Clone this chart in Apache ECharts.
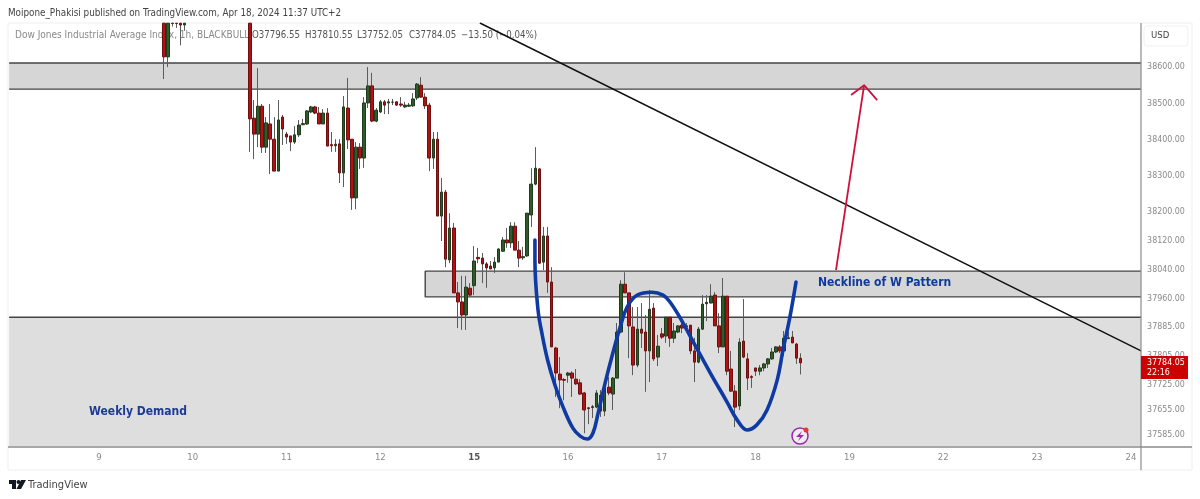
<!DOCTYPE html>
<html><head><meta charset="utf-8">
<style>html,body{margin:0;padding:0;background:#fff}#c{width:1200px;height:499px}</style>
<script src="https://cdn.jsdelivr.net/npm/echarts@6/dist/echarts.min.js"></script>
</head><body><div id="c"></div>
<script>
const slotCount = 278;
const dayLabels = ['9','10','11','12','15','16','17','18','19','22','23','24'];
const daySlots = [22,45,68,91,114,137,160,183,206,229,252,275];
const priceTicks = [38600,38500,38400,38300,38200,38120,38040,37960,37885,37805,37725,37655,37585];
const priceMin = 37554.7, priceMax = 38721.5;

const earlyStart = 38;
const earlyOpens = [38721,38628,38721,38721,38721,38716];
const earlyCloses = [38628,38721,38720,38720,38716,38721];
const earlyLows = [38567,38600,38712,38708,38660,38700];
const earlyHighs = [38721,38721,38721,38721,38721,38721];

const mainStart = 59;
const opens = [38721,38459,38415,38492,38379,38443,38401,38313,38462,38415,
38410,38393,38413,38441,38443,38476,38490,38473,38443,38473,
38386,38383,38388,38308,38487,38401,38239,38379,38349,38501,
38548,38451,38476,38504,38501,38503,38504,38498,38490,38492,
38493,38515,38550,38517,38495,38349,38401,38189,38255,38068,
38156,37977,37952,37916,37990,37997,38075,38073,38057,38051,
38046,38062,38092,38123,38115,38161,38095,38074,38079,38192,
38277,38319,38062,38134,38007,37825,37753,37738,37750,37756,
37739,37729,37701,37660,37661,37662,37695,37651,37717,37698,
37742,37869,38001,37977,37883,37778,37877,37869,37817,37935,
37800,37864,37858,37910,37852,37869,37888,37883,37888,37817,
37786,37877,37947,37949,37971,37886,37828,37968,37767,37706,
37665,37844,37795,37746,37770,37761,37770,37781,37795,37814,
37828,37817,37851,37855,37836,37796.55];
const closes = [38457,38415,38492,38379,38446,38401,38313,38454,38429,38407,
38393,38413,38440,38444,38479,38490,38473,38443,38473,38382,
38383,38387,38308,38490,38399,38239,38379,38349,38501,38548,
38451,38481,38504,38495,38504,38503,38495,38495,38495,38495,
38512,38553,38517,38493,38349,38401,38189,38255,38070,38156,
37977,37952,37916,37993,37971,38065,38071,38057,38046,38043,
38062,38098,38123,38115,38161,38095,38073,38077,38197,38277,
38321,38059,38134,38007,37828,37756,37737,37736,37756,37742,
37726,37698,37654,37658,37663,37701,37651,37715,37701,37742,
37869,38001,37977,37886,37778,37877,37866,37817,37932,37795,
37830,37855,37910,37852,37872,37886,37880,37886,37817,37786,
37877,37946,37951,37968,37886,37828,37968,37761,37706,37662,
37841,37800,37742,37744,37761,37770,37781,37795,37814,37828,
37817,37852,37853,37839,37797,37784.05];
const lows = [38366,38346,38379,38363,38363,38305,38313,38313,38385,38388,
38368,38388,38407,38440,38440,38473,38470,38443,38443,38382,
38366,38366,38280,38269,38374,38206,38208,38319,38322,38487,
38448,38448,38473,38470,38470,38495,38493,38490,38487,38490,
38490,38509,38515,38484,38313,38319,38189,38120,38048,38059,
37977,37880,37875,37875,37968,37971,38059,38004,37991,38043,
38032,38062,38090,38101,38101,38095,38048,38068,38076,38159,
38274,38057,38040,37977,37828,37690,37659,37681,37729,37690,
37723,37695,37590,37615,37632,37659,37635,37637,37695,37654,
37742,37866,37977,37797,37750,37772,37825,37704,37731,37789,
37775,37850,37839,37828,37839,37866,37866,37869,37808,37731,
37783,37875,37899,37949,37886,37811,37828,37750,37704,37607,
37654,37797,37709,37715,37748,37750,37761,37770,37792,37811,
37811,37803,37850,37839,37781,37752.05];
const highs = [38721,38509,38597,38498,38462,38498,38462,38509,38468,38421,
38410,38437,38454,38457,38481,38493,38493,38490,38484,38487,
38421,38401,38401,38520,38570,38401,38393,38390,38517,38600,
38584,38487,38509,38509,38512,38512,38506,38517,38504,38501,
38528,38556,38572,38528,38501,38421,38421,38294,38261,38197,
38170,38007,38024,38024,38004,38106,38101,38087,38062,38065,
38076,38101,38131,38156,38172,38172,38120,38104,38197,38321,
38379,38321,38159,38159,38048,37828,37800,37742,37759,37761,
37767,37739,37704,37662,37668,37709,37709,37720,37745,37745,
37894,38012,38034,37977,37938,37938,37949,37916,37985,37949,
37861,37880,37910,37910,37894,37888,37894,37894,37888,37853,
37883,37971,37971,38001,37979,37921,38018,37968,37817,37723,
37852,37960,37811,37750,37770,37778,37784,37797,37825,37830,
37833,37872,37869,37872,37839,37810.55];

// horizontal zones: [fromSlot, toSlot, priceTop, priceBottom]
const zoneSupply = [0, 277.5, 38611, 38539];
const zoneNeckline = [102, 277.5, 38037, 37966];
const zoneDemand = [0, 277.5, 37910, priceMin];
const zoneFills = ['#d6d6d6','#d6d6d6','#dedede'];

const trendLine = [[115.4,38721.5],[277.5,37817]];
const arrowShaft = [[202.7,38040],[209.6,38550]];
const arrowHead = [[206.4,38523],[209.6,38550],[212.8,38509]];
const wCurve = [[128.9,38123],[128.9,38068],[129.65,37930],[130.6,37866],[132,37792],[133.8,37723],[135.8,37662],[138.2,37604],[140,37582],[141.7,37574],[143.1,37590],[144.4,37646],[146.1,37728],[148,37811],[149.8,37883],[151.5,37938],[154,37971],[157.6,37979],[160.3,37971],[162,37952],[164.5,37908],[167.7,37842],[171.9,37756],[176,37676],[178.5,37626],[180.9,37599],[183.3,37613],[185.8,37654],[188.3,37737],[189.7,37819],[191.4,37910],[192.9,38007]];

const legendName = 'Dow Jones Industrial Average Index, 1h, BLACKBULL';
const legendParts = ['O37796.55','H37810.55','L37752.05','C37784.05','−13.50 (−0.04%)'];
const legendPartX = [252,305,357,409,461];
const titleText = 'Moipone_Phakisi published on TradingView.com, Apr 18, 2024 11:37 UTC+2';

const FONT = '"DejaVu Sans Condensed", "DejaVu Sans", sans-serif';
const categories = Array.from({length: slotCount}, () => '');
daySlots.forEach((s, i) => { categories[s] = dayLabels[i]; });
const blank = () => ['-','-','-','-'];
const wickData = Array.from({length: slotCount}, blank);
const bodyData = Array.from({length: slotCount}, blank);
const put = (start, os, cs, ls, hs) => os.forEach((o, i) => {
  wickData[start + i] = [o, cs[i], ls[i], hs[i]];
  bodyData[start + i] = [o, cs[i], Math.min(o, cs[i]), Math.max(o, cs[i])];
});
put(earlyStart, earlyOpens, earlyCloses, earlyLows, earlyHighs);
put(mainStart, opens, closes, lows, highs);

const zoneItems = [zoneSupply, zoneNeckline, zoneDemand].map((z, i) => [
  {xAxis: z[0], yAxis: z[2], itemStyle: {color: zoneFills[i], borderWidth: 0}},
  {xAxis: z[1], yAxis: z[3]}
]);
const overlay = {type: 'line', xAxisIndex: 1, yAxisIndex: 0, showSymbol: false, symbol: 'none', silent: true, animation: false, z: 5};
const edge = (pts) => Object.assign({}, overlay, {data: pts, z: 2, lineStyle: {color: '#444', width: 1.4}});

const chart = echarts.init(document.getElementById('c'), null, {renderer: 'canvas'});
chart.setOption({
  animation: false,
  backgroundColor: '#fff',
  grid: {left: 7.1, top: 23, width: 1134, height: 423},
  xAxis: [
    {type: 'category', data: categories, boundaryGap: true,
     axisLine: {show: false}, axisTick: {show: false}, splitLine: {show: false},
     axisLabel: {interval: (i) => categories[i] !== '', color: '#8a8a8a', fontFamily: FONT, fontSize: 9.5, margin: 7, hideOverlap: false,
       formatter: (v) => v === '15' ? '{b|15}' : v,
       rich: {b: {color: '#555', fontWeight: 'bold', fontFamily: FONT, fontSize: 9.5}}}},
    {type: 'value', min: -0.5, max: 277.5, show: false}
  ],
  yAxis: {type: 'value', position: 'right', min: priceMin, max: priceMax, scale: true,
    axisLine: {show: false}, axisTick: {show: false}, splitLine: {show: false},
    axisLabel: {customValues: priceTicks, color: '#8a8a8a', fontFamily: FONT, fontSize: 8.8, margin: 6, formatter: (v) => v.toFixed(2)}},
  series: [
    Object.assign({}, overlay, {data: [], z: 1, markArea: {silent: true, z: 1, data: zoneItems}}),
    edge([[zoneSupply[0],zoneSupply[2]],[zoneSupply[1],zoneSupply[2]]]),
    edge([[zoneSupply[0],zoneSupply[3]],[zoneSupply[1],zoneSupply[3]]]),
    edge([[zoneNeckline[1],zoneNeckline[2]],[zoneNeckline[0],zoneNeckline[2]],[zoneNeckline[0],zoneNeckline[3]],[zoneNeckline[1],zoneNeckline[3]]]),
    edge([[zoneDemand[0],zoneDemand[2]],[zoneDemand[1],zoneDemand[2]]]),
    {type: 'candlestick', data: wickData, barWidth: 1, z: 3, silent: true,
     itemStyle: {color: '#5c5c5c', color0: '#5c5c5c', borderColor: '#5c5c5c', borderColor0: '#5c5c5c', borderWidth: 1}},
    {type: 'candlestick', data: bodyData, barWidth: 3.1, z: 4, silent: true,
     itemStyle: {color: '#2f5a2a', color0: '#b01212', borderColor: '#1f3a1c', borderColor0: '#6e1010', borderWidth: 1}},
    Object.assign({}, overlay, {data: trendLine, lineStyle: {color: '#111', width: 1.5}}),
    Object.assign({}, overlay, {data: arrowShaft, lineStyle: {color: '#d0103c', width: 1.8}}),
    Object.assign({}, overlay, {data: arrowHead, lineStyle: {color: '#d0103c', width: 1.8}}),
    Object.assign({}, overlay, {data: wCurve, smooth: 0.4, lineStyle: {color: '#0f3aa3', width: 3.6, cap: 'round', join: 'round'}})
  ],
  graphic: [
    {type: 'rect', silent: true, z: 0, shape: {x: 8, y: 23, width: 1184, height: 447}, style: {fill: 'none', stroke: '#eeeeee', lineWidth: 1}},
    {type: 'line', silent: true, z: 20, shape: {x1: 8, y1: 447, x2: 1192, y2: 447}, style: {stroke: '#a8a8a8', lineWidth: 2}},
    {type: 'line', silent: true, z: 20, shape: {x1: 1141, y1: 23, x2: 1141, y2: 470}, style: {stroke: '#8c8c8c', lineWidth: 1.2}},
    {type: 'text', silent: true, z: 20, style: {x: 8, y: 13, text: titleText, fill: '#444', font: '9.8px ' + FONT, textVerticalAlign: 'middle'}},
    {type: 'text', silent: true, z: 1, style: {x: 15, y: 35, text: legendName, fill: '#8a8a8a', font: '10px ' + FONT, textVerticalAlign: 'middle'}}
  ].concat(legendParts.map((t, i) => ({type: 'text', silent: true, z: 1, style: {x: legendPartX[i], y: 35, text: t, fill: '#555', font: '9.6px ' + FONT, textVerticalAlign: 'middle'}}))).concat([
    {type: 'rect', silent: true, z: 20, shape: {x: 1144, y: 26, width: 44, height: 20, r: 3}, style: {fill: '#fff', stroke: '#f1f1f1', lineWidth: 1}},
    {type: 'text', silent: true, z: 21, style: {x: 1151, y: 36, text: 'USD', fill: '#444', font: '9.5px ' + FONT, textVerticalAlign: 'middle'}},
    {type: 'rect', silent: true, z: 20, shape: {x: 1141, y: 356, width: 47, height: 23}, style: {fill: '#cc0000'}},
    {type: 'text', silent: true, z: 21, style: {x: 1147, y: 363, text: '37784.05', fill: '#fff', font: '8.8px ' + FONT, textVerticalAlign: 'middle'}},
    {type: 'text', silent: true, z: 21, style: {x: 1147, y: 373, text: '22:16', fill: '#fff', font: '8.8px ' + FONT, textVerticalAlign: 'middle'}},
    {type: 'text', silent: true, z: 20, style: {x: 818, y: 283, text: 'Neckline of W Pattern', fill: '#0f3a9c', font: 'bold 12px ' + FONT, textVerticalAlign: 'middle'}},
    {type: 'text', silent: true, z: 20, style: {x: 89, y: 412, text: 'Weekly Demand', fill: '#1c3a96', font: 'bold 12px ' + FONT, textVerticalAlign: 'middle'}},
    {type: 'circle', silent: true, z: 20, shape: {cx: 800, cy: 436, r: 8}, style: {fill: '#eee', stroke: '#9c27b0', lineWidth: 1.5}},
    {type: 'polygon', silent: true, z: 21, shape: {points: [[802,431],[796,437],[800,437],[798,441],[804,435],[800,435]]}, style: {fill: '#9c27b0'}},
    {type: 'circle', silent: true, z: 21, shape: {cx: 806, cy: 430, r: 2.5}, style: {fill: '#e53935'}},
    {type: 'polygon', silent: true, z: 20, shape: {points: [[9,480],[16,480],[16,489],[12,489],[12,484],[9,484]]}, style: {fill: '#131722'}},
    {type: 'circle', silent: true, z: 20, shape: {cx: 18.5, cy: 482, r: 2}, style: {fill: '#131722'}},
    {type: 'polygon', silent: true, z: 20, shape: {points: [[21,480],[26,480],[21,489],[16.5,489]]}, style: {fill: '#131722'}},
    {type: 'text', silent: true, z: 20, style: {x: 28, y: 485, text: 'TradingView', fill: '#444', font: '11px ' + FONT, textVerticalAlign: 'middle'}}
  ])
});
</script></body></html>
